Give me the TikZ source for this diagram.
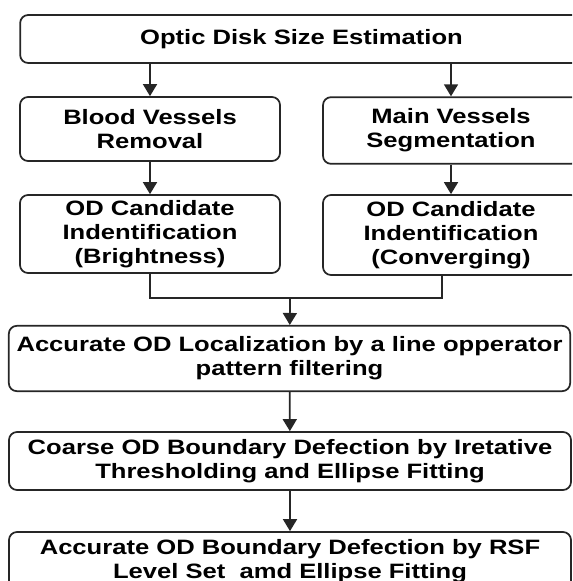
\documentclass[tikz,border=0pt]{standalone}
\usepackage{fontspec}
\setmainfont{Liberation Sans}[FakeStretch=1.23]
\usepackage{tikz}
\usetikzlibrary{positioning,calc,arrows.meta}

\begin{document}
\begin{tikzpicture}[x=0.75pt, y=-0.75pt, ->, >={Triangle[length=9pt, width=10.5pt]},
  every edge/.append style={line width=1.3pt, black!85},
  stage/.style = {draw=black!85, line width=1.3pt, rounded corners=6pt, fill=white, align=center, inner sep=0pt,
    font=\fontsize{15.6}{18}\selectfont\bfseries}]

\useasboundingbox (0,0) rectangle (572,581);
\clip (0,0) rectangle (572,581);

% first row
\node[stage, minimum width=422pt, minimum height=36pt] (sizeEst) at (301.5,39) {Optic Disk Size Estimation};

% two branches
\node[stage, minimum width=195pt, minimum height=48pt] (vesRem) at (150,129) {Blood Vessels\\Removal};
\node[stage, minimum width=192pt, minimum height=50pt] (vesSeg) at (451,130.5) {Main Vessels\\Segmentation};
\node[stage, minimum width=195pt, minimum height=58.5pt] (candBright) at (150,234) {OD Candidate\\Indentification\\(Brightness)};
\node[stage, minimum width=192pt, minimum height=60pt] (candConv) at (451,235) {OD Candidate\\Indentification\\(Converging)};

% merged steps
\node[stage, minimum width=421pt, minimum height=49pt] (odLoc) at (289.5,358.5) {Accurate OD Localization by a line opperator\\pattern filtering};
\node[stage, minimum width=421.5pt, minimum height=43.5pt] (coarseBnd) at (290,461) {Coarse OD Boundary Defection by Iretative\\Thresholding and Ellipse Fitting};
\node[stage, minimum width=421.5pt, minimum height=43.5pt] (rsfBnd) at (290,561) {Accurate OD Boundary Defection by RSF\\Level Set\ \ amd Ellipse Fitting};

\coordinate (join) at (290,298);

\path
    (sizeEst.south -| vesRem) edge (vesRem)
    (sizeEst.south -| vesSeg) edge (vesSeg)
    (vesRem) edge (candBright)
    (vesSeg) edge (candConv)
    (join) edge (odLoc)
    (odLoc) edge (coarseBnd)
    (coarseBnd) edge (rsfBnd);

\draw[-, line width=1.3pt, black!85] (candBright.south) |- (join) -| ($(candConv.south)+(-9,0)$);
\end{tikzpicture}
\end{document}
